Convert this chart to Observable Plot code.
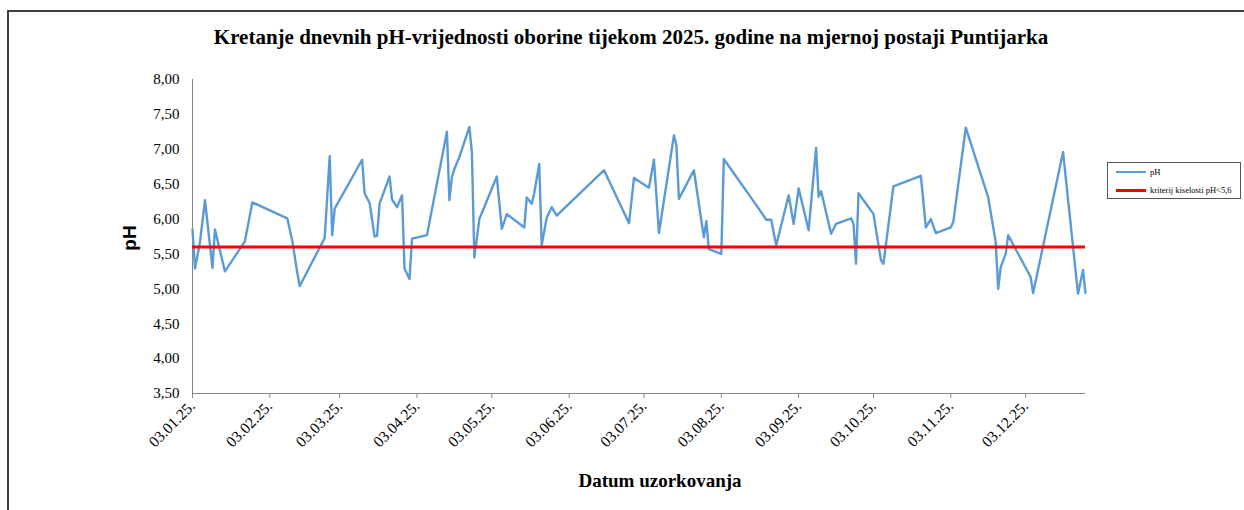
<!DOCTYPE html>
<html>
<head>
<meta charset="utf-8">
<script src="https://cdn.jsdelivr.net/npm/d3@7"></script>
<script src="https://cdn.jsdelivr.net/npm/@observablehq/plot@0.6"></script>
<style>
  html, body { margin: 0; padding: 0; background: #fff; overflow: hidden; }
  #wrap { position: relative; width: 1244px; height: 510px; }
  #wrap svg { position: absolute; left: 0; top: 0; }
  .frame { position: absolute; left: 7px; top: 10px; right: -10px; bottom: -10px; border-top: 2px solid #404040; border-left: 2px solid #404040; }
  .title { position: absolute; left: 0; width: 1262px; top: 25px; text-align: center; font-family: "Liberation Serif", serif; font-weight: bold; font-size: 21px; color: #000; white-space: nowrap; }
  .xtitle { position: absolute; left: 570px; width: 180px; top: 470px; text-align: center; font-family: "Liberation Serif", serif; font-weight: bold; font-size: 19px; color: #000; white-space: nowrap; }
  .ytitle { position: absolute; left: 130px; top: 238px; transform: translate(-50%, -50%) rotate(-90deg); font-family: "Liberation Sans", Arial, sans-serif; font-weight: bold; font-size: 19px; color: #000; white-space: nowrap; }
  .legend { position: absolute; left: 1107px; top: 162px; width: 134px; height: 37px; border: 1px solid #555; box-sizing: border-box; font-family: "Liberation Serif", serif; font-size: 8.5px; color: #000; }
  .legend .row { position: absolute; left: 8px; display: flex; align-items: center; white-space: nowrap; }
  .legend .sw { width: 30px; margin-right: 4px; }
</style>
</head>
<body>
<div id="wrap"></div>
<script>
// ---- data ----
const chartTitle = "Kretanje dnevnih pH-vrijednosti oborine tijekom 2025. godine na mjernoj postaji Puntijarka";
const xTitle = "Datum uzorkovanja";
const yTitle = "pH";
const seriesNames = ["pH", "kriterij kiselosti pH<5,6"];
const seriesColors = ["#5B9BD5", "#FF0000"];
const threshold = 5.6;

const dates = [
  "2025-01-03","2025-01-04","2025-01-06","2025-01-08","2025-01-11","2025-01-12","2025-01-16","2025-01-24","2025-01-27",
  "2025-02-10","2025-02-12","2025-02-14","2025-02-15","2025-02-25","2025-02-27","2025-02-28",
  "2025-03-01","2025-03-12","2025-03-13","2025-03-15","2025-03-17","2025-03-18","2025-03-19","2025-03-23","2025-03-24","2025-03-26","2025-03-28","2025-03-29","2025-03-31",
  "2025-04-01","2025-04-07","2025-04-15","2025-04-16","2025-04-17","2025-04-18","2025-04-20","2025-04-24","2025-04-25","2025-04-26","2025-04-28",
  "2025-05-05","2025-05-07","2025-05-09","2025-05-16","2025-05-17","2025-05-19","2025-05-20","2025-05-22","2025-05-23","2025-05-25","2025-05-27","2025-05-29",
  "2025-06-17","2025-06-27","2025-06-29",
  "2025-07-05","2025-07-07","2025-07-09","2025-07-15","2025-07-16","2025-07-17","2025-07-23","2025-07-27","2025-07-28","2025-07-29",
  "2025-08-03","2025-08-04","2025-08-18","2025-08-21","2025-08-23","2025-08-25","2025-08-30",
  "2025-09-01","2025-09-03","2025-09-07","2025-09-10","2025-09-11","2025-09-12","2025-09-16","2025-09-18","2025-09-24","2025-09-25","2025-09-26","2025-09-27",
  "2025-10-03","2025-10-06","2025-10-07","2025-10-11","2025-10-22","2025-10-24","2025-10-26","2025-10-28",
  "2025-11-03","2025-11-04","2025-11-09","2025-11-18","2025-11-21","2025-11-22","2025-11-23","2025-11-25","2025-11-26",
  "2025-12-05","2025-12-06","2025-12-18","2025-12-24","2025-12-26","2025-12-27"
];
const phValues = [
  5.85,5.29,5.67,6.27,5.30,5.85,5.25,5.68,6.24,
  6.01,5.69,5.23,5.04,5.73,6.90,5.77,
  6.15,6.85,6.37,6.23,5.75,5.76,6.22,6.61,6.28,6.17,6.34,5.29,5.14,
  5.72,5.77,7.25,6.27,6.60,6.72,6.89,7.32,6.96,5.45,6.00,
  6.61,5.86,6.07,5.88,6.31,6.22,6.37,6.79,5.62,6.02,6.17,6.05,
  6.70,5.94,6.59,
  6.45,6.85,5.80,7.20,7.06,6.29,6.70,5.74,5.97,5.57,
  5.50,6.86,6.15,5.99,5.99,5.62,6.34,
  5.93,6.44,5.84,7.02,6.32,6.40,5.79,5.93,6.01,5.93,5.36,6.37,
  6.07,5.41,5.36,6.47,6.62,5.88,6.00,5.80,
  5.88,5.96,7.31,6.31,5.67,5.00,5.31,5.50,5.77,
  5.17,4.94,6.96,4.93,5.27,4.94
];
const xTickDates = ["2025-01-03","2025-02-03","2025-03-03","2025-04-03","2025-05-03","2025-06-03","2025-07-03","2025-08-03","2025-09-03","2025-10-03","2025-11-03","2025-12-03"];
const yTicks = [3.5,4,4.5,5,5.5,6,6.5,7,7.5,8];
const yDomain = [3.5, 8];

// ---- build ----
const parse = d3.utcParse("%Y-%m-%d");
const data = dates.map((d, i) => ({date: parse(d), ph: phValues[i]}));
const xDomain = [data[0].date, data[data.length - 1].date];
const fmtDate = d3.utcFormat("%d.%m.%y.");
const axisColor = "#868686";

const chart = Plot.plot({
  width: 1244,
  height: 510,
  marginLeft: 192,
  marginRight: 159,
  marginTop: 79,
  marginBottom: 117,
  style: {fontFamily: "'Liberation Serif', serif", fontSize: "15px", color: "#000", background: "transparent"},
  x: {type: "utc", domain: xDomain, label: null},
  y: {domain: yDomain, label: null},
  marks: [
    Plot.axisY({ticks: yTicks, tickFormat: d => d.toFixed(2).replace(".", ","), tickSize: 0, tickPadding: 13, label: null, fontSize: 15}),
    Plot.axisX({ticks: xTickDates.map(parse), tickFormat: fmtDate, tickRotate: -45, tickSize: 5, tickPadding: 5, stroke: axisColor, label: null, fontSize: 15.5}),
    Plot.ruleY([yDomain[0]], {stroke: axisColor, strokeWidth: 1}),
    Plot.ruleX([xDomain[0]], {stroke: axisColor, strokeWidth: 1}),
    Plot.lineY(data, {x: "date", y: "ph", stroke: seriesColors[0], strokeWidth: 2.4, strokeLinejoin: "round"}),
    Plot.ruleY([threshold], {stroke: seriesColors[1], strokeWidth: 3})
  ]
});

const wrap = document.getElementById("wrap");
wrap.appendChild(chart);

const frame = document.createElement("div");
frame.className = "frame";
wrap.appendChild(frame);

const t = document.createElement("div");
t.className = "title"; t.textContent = chartTitle; wrap.appendChild(t);
const xt = document.createElement("div");
xt.className = "xtitle"; xt.textContent = xTitle; wrap.appendChild(xt);
const yt = document.createElement("div");
yt.className = "ytitle"; yt.textContent = yTitle; wrap.appendChild(yt);

const lg = document.createElement("div");
lg.className = "legend";
const rowTops = [4, 22];
seriesNames.forEach((name, i) => {
  const row = document.createElement("div");
  row.className = "row";
  row.style.top = rowTops[i] + "px";
  const sw = document.createElement("div");
  sw.className = "sw";
  sw.style.height = (i === 0 ? 2.5 : 3) + "px";
  sw.style.background = seriesColors[i];
  const lab = document.createElement("span");
  lab.textContent = name;
  row.appendChild(sw); row.appendChild(lab);
  lg.appendChild(row);
});
wrap.appendChild(lg);
</script>
</body>
</html>
